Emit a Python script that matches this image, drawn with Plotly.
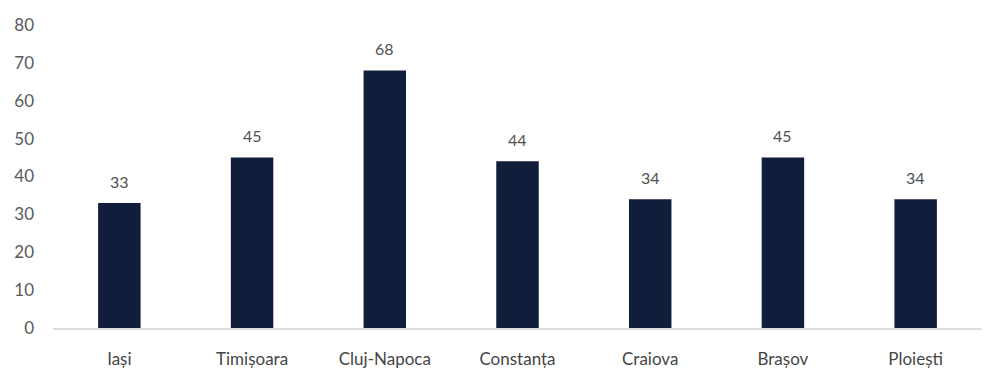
import plotly.graph_objects as go

cities = ["Iași", "Timișoara", "Cluj-Napoca", "Constanța", "Craiova", "Brașov", "Ploiești"]
values = [33, 45, 68, 44, 34, 45, 34]
y_ticks = [0, 10, 20, 30, 40, 50, 60, 70, 80]

FONT = "Lato, Carlito, Open Sans, sans-serif"

fig = go.Figure(go.Bar(
    x=cities, y=values,
    marker=dict(color="#101d3b", line=dict(width=0)),
    cliponaxis=False,
))

for c, v in zip(cities, values):
    fig.add_annotation(x=c, y=v, text=str(v), showarrow=False, yshift=22,
                       font=dict(family=FONT, size=16, color="#505050"))

# page body has an 8px default margin in the browser
fig.update_layout(
    width=987, height=368,
    margin=dict(l=45, r=13, t=17, b=48, autoexpand=False),
    paper_bgcolor="white", plot_bgcolor="white",
    bargap=0.68,
    showlegend=False,
    font=dict(family=FONT, size=16, color="#505050"),
)
fig.update_yaxes(range=[0, 80], tickvals=y_ticks, showgrid=False, zeroline=False,
                 showline=False, ticklabelstandoff=18, automargin=False,
                 tickfont=dict(family=FONT, size=17, color="#5a5a5a"))
fig.update_xaxes(showline=True, linecolor="#dedede", linewidth=2, showgrid=False,
                 ticklabelstandoff=15, automargin=False,
                 tickfont=dict(family=FONT, size=17, color="#454545"))

fig.write_html("out.html")
